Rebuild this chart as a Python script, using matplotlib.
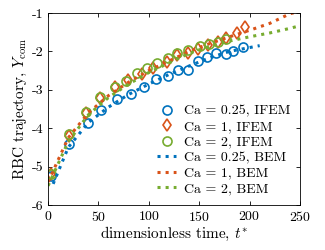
import numpy as np
import matplotlib
matplotlib.use("Agg")
import matplotlib.pyplot as plt

plt.rcParams['font.family'] = 'cmr10'
plt.rcParams['mathtext.fontset'] = 'cm'
plt.rcParams['axes.unicode_minus'] = False
plt.rcParams['axes.formatter.use_mathtext'] = True

# IFEM (markers)
t_ifem_025 = [3, 21, 40, 53, 68, 82, 95, 107, 119, 129, 139, 149, 158, 167, 177, 184, 193]
y_ifem_025 = [-5.25, -4.4, -3.86, -3.53, -3.25, -3.11, -2.94, -2.71, -2.64, -2.48, -2.48,
              -2.25, -2.15, -2.05, -2.08, -1.98, -1.89]
t_ifem_1 = [3, 21, 38, 52, 66, 79, 93, 104, 118, 128, 139, 149, 159, 169, 177, 187, 195]
y_ifem_1 = [-5.2, -4.2, -3.6, -3.22, -2.94, -2.75, -2.59, -2.44, -2.27, -2.09, -2.05,
            -1.95, -1.83, -1.75, -1.66, -1.53, -1.37]
t_ifem_2 = [3, 21, 38, 52, 66, 77, 88, 98, 108, 119, 128, 139, 151, 160, 169, 177]
y_ifem_2 = [-5.18, -4.15, -3.57, -3.2, -2.94, -2.77, -2.55, -2.44, -2.3, -2.16, -2.05,
            -1.97, -1.86, -1.8, -1.75, -1.69]

# BEM (dotted lines)
t_bem_025 = [5, 20, 40, 60, 80, 100, 120, 140, 160, 180, 200, 210]
y_bem_025 = [-5.45, -4.5, -3.85, -3.45, -3.12, -2.85, -2.6, -2.38, -2.17, -2.0, -1.9, -1.85]
t_bem_1 = [0, 20, 40, 60, 80, 100, 120, 140, 160, 180, 200, 220, 240, 250]
y_bem_1 = [-5.4, -4.25, -3.6, -3.15, -2.8, -2.5, -2.25, -2.0, -1.8, -1.62, -1.45, -1.27, -1.02, -0.95]
t_bem_2 = [0, 20, 40, 60, 80, 100, 120, 140, 160, 180, 200, 220, 240, 250]
y_bem_2 = [-5.5, -4.35, -3.65, -3.2, -2.85, -2.55, -2.3, -2.05, -1.87, -1.73, -1.62, -1.52, -1.4, -1.33]

blue = '#0072BD'
orange = '#D95319'
green = '#77AC30'

fig = plt.figure(figsize=(3.25, 2.5), dpi=100)
ax = fig.add_axes([0.148, 0.18, 0.775, 0.768])

ax.plot(t_ifem_025, y_ifem_025, 'o', mfc='none', mec=blue, ms=6.5, mew=1.2, label='Ca = 0.25, IFEM')
ax.plot(t_ifem_1, y_ifem_1, 'd', mfc='none', mec=orange, ms=6.5, mew=1.2, label='Ca = 1, IFEM')
ax.plot(t_ifem_2, y_ifem_2, 'o', mfc='none', mec=green, ms=6.5, mew=1.2, label='Ca = 2, IFEM')
ax.plot(t_bem_025, y_bem_025, ':', color=blue, lw=2.2, label='Ca = 0.25, BEM')
ax.plot(t_bem_1, y_bem_1, ':', color=orange, lw=2.2, label='Ca = 1, BEM')
ax.plot(t_bem_2, y_bem_2, ':', color=green, lw=2.2, label='Ca = 2, BEM')

ax.set_xlim(0, 250)
ax.set_ylim(-6, -1)
ax.set_xticks([0, 50, 100, 150, 200, 250])
ax.set_yticks([-6, -5, -4, -3, -2, -1])
ax.set_yticklabels(['-6', '-5', '-4', '-3', '-2', '-1'])
ax.tick_params(direction='in', top=True, right=True, labelsize=10, length=3, width=0.6)
for s in ax.spines.values():
    s.set_linewidth(0.6)

ax.set_xlabel('dimensionless time, $t^{*}$', fontsize=11, labelpad=1)
ax.set_ylabel('RBC trajectory, $Y_{\\mathrm{com}}$', fontsize=11, labelpad=2)

ax.legend(loc='lower right', frameon=False, fontsize=10, handlelength=1.3,
          handletextpad=0.6, labelspacing=0.2, borderaxespad=0.3)

fig.savefig('out.png', dpi=100)
